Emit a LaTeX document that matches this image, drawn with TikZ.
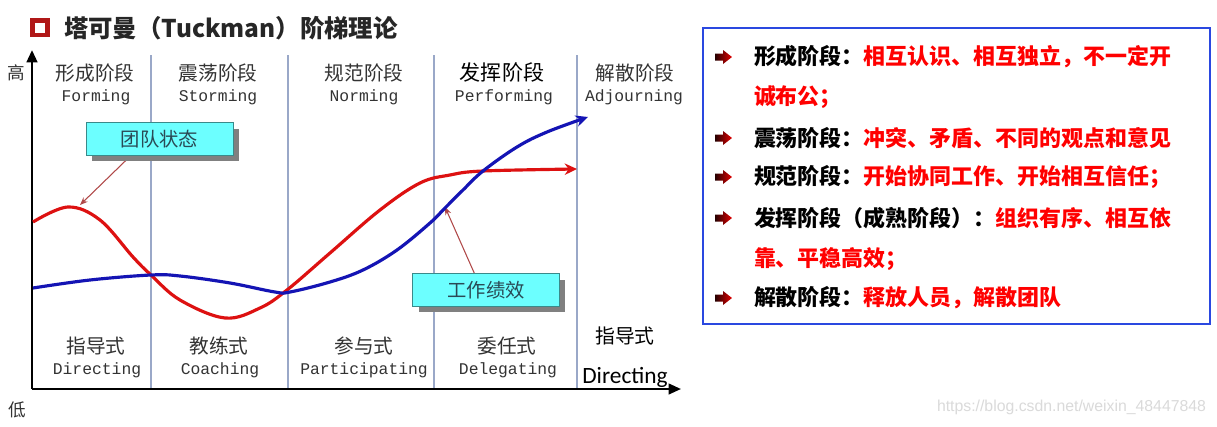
\documentclass[tikz,border=0pt]{standalone}
\usepackage{fontspec}
\setmainfont{Noto Sans CJK SC}
\newfontfamily\monof{Liberation Mono}
\newfontfamily\carlf{Carlito}
\newfontfamily\lsansf{Liberation Sans}
\usetikzlibrary{arrows.meta,shadows}
\newcommand\myfs[1]{\fontsize{#1}{#1}\selectfont}
\pgfdeclarelayer{back}\pgfdeclarelayer{bg}\pgfsetlayers{back,bg,main}
\definecolor{cyanbox}{HTML}{6CFFFF}
\definecolor{sepc}{HTML}{9AA8C8}
\definecolor{redc}{HTML}{DD1111}
\definecolor{bluec}{HTML}{1414B4}
\definecolor{calllc}{HTML}{B04848}
\definecolor{boxblue}{HTML}{2A48E0}
\definecolor{shadowg}{HTML}{808080}
\definecolor{txtc}{HTML}{333333}
\definecolor{titlec}{HTML}{262626}
\definecolor{calltxt}{HTML}{2A4A55}
\definecolor{boxedge}{HTML}{3A8A8A}
\definecolor{wmc}{HTML}{DADADA}
\definecolor{sqc}{HTML}{B01818}
\tikzset{
  every node/.style={inner sep=0pt, outer sep=0pt},
  stg/.style={text=txtc, font=\myfs{11.2pt}},
  eng/.style={text=txtc, font=\monof\myfs{9.3pt}},
  sepline/.style={draw=sepc, line width=0.6pt},
  curve/.style={line width=1.8pt, -{Stealth[length=7pt,width=6.5pt]}},
  callbox/.style={fill=cyanbox, draw=boxedge, line width=0.5pt, minimum width=2.94cm, minimum height=0.66cm, text=calltxt, font=\myfs{11pt}, drop shadow={shadow xshift=0.12cm, shadow yshift=-0.12cm, fill=shadowg, opacity=1}},
  callline/.style={draw=calllc, line width=0.6pt, -{Stealth[length=4.5pt,width=3.5pt]}},
  rtxt/.style={anchor=west, font=\bfseries\myfs{12.5pt}},
  barrow/.pic={\shade[left color=black!85!red, right color=red!90!black] (-8,-3.5) -- (0,-3.5) -- (0,-7) -- (9,0) -- (0,7) -- (0,3.5) -- (-8,3.5) -- cycle;}
}
\begin{document}
\begin{tikzpicture}[x=0.02cm, y=-0.02cm]
\useasboundingbox (0,0) rectangle (1217,426);
\begin{pgfonlayer}{back}
\fill[white] (0,0) rectangle (1217,426);
\end{pgfonlayer}

% title
\draw[sqc, line width=2.4pt] (32.5,20.5) rectangle (47.5,35);
\node[anchor=west, text=titlec, font=\bfseries\myfs{13.9pt}] (title) at (64,28) {塔可曼（Tuckman）阶梯理论};

% separators
\foreach \xx in {151,288,434,577} \draw[sepline] (\xx,55) -- (\xx,389);

% axes
\node (origin) at (32,389) {};
\coordinate (ytop) at (32,50);
\coordinate (xend) at (681,389);
\draw[line width=1.5pt, -{Triangle[length=7pt,width=6pt]}] (origin.center) -- (ytop);
\draw[line width=1.3pt, -{Triangle[length=7pt,width=6pt]}] (origin.center) -- (xend);
\node[text=txtc, font=\myfs{10pt}] (hi) at (16,73) {高};
\node[text=txtc, font=\myfs{10pt}] (lo) at (17,410) {低};

% stage labels
\node[stg] (s1) at (95,73) {形成阶段};
\node[eng] (e1) at (96,97) {Forming};
\node[stg] (s2) at (218,73) {震荡阶段};
\node[eng] (e2) at (218,97) {Storming};
\node[stg] (s3) at (364,73) {规范阶段};
\node[eng] (e3) at (364,97) {Norming};
\node[stg, text=black, font=\myfs{12pt}] (s4) at (502,72) {发挥阶段};
\node[eng] (e4) at (504,97) {Performing};
\node[stg] (s5) at (635,73) {解散阶段};
\begin{scope}
\clip (560,82) rectangle (681,112);
\node[eng, anchor=west] (e5) at (585,97) {Adjourning};
\end{scope}

% leadership labels
\node[stg] (b1) at (96,346) {指导式};
\node[eng] (d1) at (97,370) {Directing};
\node[stg] (b2) at (219,346) {教练式};
\node[eng] (d2) at (220,370) {Coaching};
\node[stg] (b3) at (364,346) {参与式};
\node[eng] (d3) at (364,370) {Participating};
\node[stg] (b4) at (507,346) {委任式};
\node[eng] (d4) at (508,370) {Delegating};
\node[text=black, font=\myfs{11.3pt}] (b5) at (625,336) {指导式};
\node[text=black, font=\carlf\myfs{13.3pt}] (d5) at (625,377) {Directing};

% curves
\draw[curve, redc] plot[smooth, tension=0.6] coordinates {(33,222) (68,207) (100,220) (133,257) (151,275) (180,300) (225,318) (260,308) (287,290) (330,253) (380,210) (420,183) (450,175) (483,171) (577,169)};
\draw[curve, bluec] plot[smooth, tension=0.6] coordinates {(33,288) (90,280) (151,275) (180,276) (230,283) (275,292) (290,292) (330,282) (363,270) (397,250) (430,223) (445,208) (463,190) (483,171) (517,147) (547,132) (588,117)};

% callouts
\node[callbox] (tb) at (159.5,139) {团队状态};
\node[callbox] (wb) at (486,290) {工作绩效};
\coordinate (t1) at (80,205);
\coordinate (t2) at (445,207);
\begin{pgfonlayer}{bg}
\draw[callline] (tb.210) -- (t1);
\draw[callline] (wb.125) -- (t2);
\end{pgfonlayer}

% right box
\coordinate (bA) at (703,28);
\coordinate (bB) at (1210,324);
\draw[boxblue, line width=0.9pt] (bA) rectangle (bB);
\foreach \yy in {57,138,177,218,298} \pic at (723,\yy) {barrow};
\node[rtxt] (r1) at (754,57) {形成阶段：\textcolor{red}{相互认识、相互独立，不一定开}};
\node[rtxt] (r2) at (754,97) {\textcolor{red}{诚布公；}};
\node[rtxt] (r3) at (754,138) {震荡阶段：\textcolor{red}{冲突、矛盾、不同的观点和意见}};
\node[rtxt] (r4) at (754,177) {规范阶段：\textcolor{red}{开始协同工作、开始相互信任；}};
\node[rtxt] (r5) at (754,218) {发挥阶段（成熟阶段）：\textcolor{red}{组织有序、相互依}};
\node[rtxt] (r6) at (754,259) {\textcolor{red}{靠、平稳高效；}};
\node[rtxt] (r7) at (754,298) {解散阶段：\textcolor{red}{释放人员，解散团队}};

% watermark
\node[anchor=west, text=wmc, font=\lsansf\myfs{9pt}] (wm) at (937,407) {https://blog.csdn.net/weixin\_48447848};
\end{tikzpicture}
\end{document}
